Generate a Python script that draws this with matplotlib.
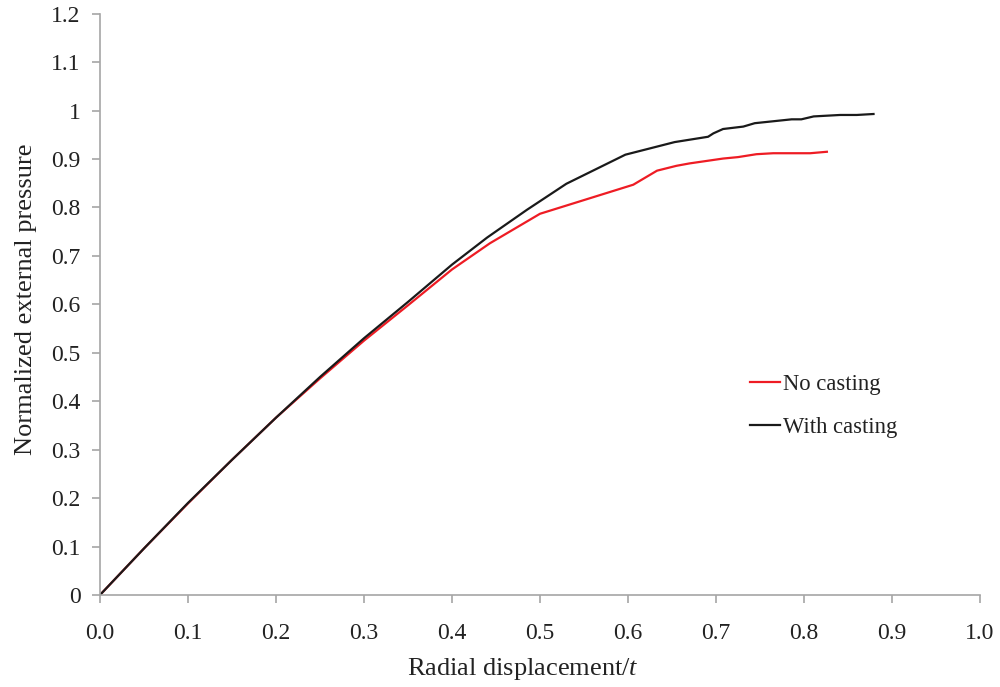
import matplotlib
matplotlib.use("Agg")
import matplotlib.pyplot as plt
from matplotlib.ticker import FuncFormatter

plt.rcParams['font.family'] = ['Liberation Serif', 'DejaVu Serif']
plt.rcParams['mathtext.fontset'] = 'custom'
plt.rcParams['mathtext.rm'] = 'Liberation Serif'
plt.rcParams['mathtext.it'] = 'Liberation Serif:italic'

# no casting
nocast_x = [0, 0.05, 0.1, 0.15, 0.2, 0.25, 0.3, 0.35, 0.4, 0.443, 0.5, 0.606,
            0.633, 0.655, 0.67, 0.708, 0.725, 0.746, 0.765, 0.807, 0.826]
nocast_y = [0, 0.096, 0.189, 0.279, 0.366, 0.447, 0.525, 0.598, 0.672, 0.726, 0.787, 0.847,
            0.876, 0.886, 0.891, 0.901, 0.904, 0.910, 0.912, 0.912, 0.915]

# with casting
withcast_x = [0, 0.05, 0.1, 0.15, 0.2, 0.25, 0.3, 0.35, 0.4, 0.44, 0.485, 0.53, 0.597,
              0.653, 0.691, 0.697, 0.708, 0.731, 0.744, 0.786, 0.797, 0.811, 0.841, 0.860, 0.879]
withcast_y = [0, 0.096, 0.19, 0.279, 0.366, 0.45, 0.53, 0.605, 0.682, 0.738, 0.795, 0.849, 0.909,
              0.935, 0.946, 0.953, 0.962, 0.967, 0.974, 0.982, 0.982, 0.988, 0.991, 0.991, 0.993]

xticks = [0.0, 0.1, 0.2, 0.3, 0.4, 0.5, 0.6, 0.7, 0.8, 0.9, 1.0]
yticks = [0, 0.1, 0.2, 0.3, 0.4, 0.5, 0.6, 0.7, 0.8, 0.9, 1.0, 1.1, 1.2]

fig = plt.figure(figsize=(10, 6.87), dpi=100)
ax = fig.add_axes([0.1, 0.134, 0.88, 0.846])

ax.plot(nocast_x, nocast_y, color="#ee1c24", lw=1.6, label="No casting")
ax.plot(withcast_x, withcast_y, color="#1a1a1a", lw=1.6, label="With casting")

ax.set_xlim(0, 1.0)
ax.set_ylim(0, 1.2)
ax.set_xticks(xticks)
ax.set_yticks(yticks)
ax.xaxis.set_major_formatter(FuncFormatter(lambda v, p: "%.1f" % v))
ax.yaxis.set_major_formatter(FuncFormatter(lambda v, p: "%g" % round(v, 1)))

for side in ["top", "right"]:
    ax.spines[side].set_visible(False)
for side in ["left", "bottom"]:
    ax.spines[side].set_color("#a6a6a6")
    ax.spines[side].set_linewidth(1.2)
ax.tick_params(direction="out", length=6, width=1.2, color="#a6a6a6",
               labelsize=17, labelcolor="#222222")
ax.tick_params(axis="x", pad=14)
ax.tick_params(axis="y", pad=8)

ax.set_xlabel(r"Radial displacement/$t$", fontsize=19, color="#222222")
ax.set_ylabel("Normalized external pressure", fontsize=19, color="#222222")
# labels sit a little off-centre
ax.xaxis.set_label_coords(0.481, -0.105)
ax.yaxis.set_label_coords(-0.072, 0.508)

ax.legend(loc="center left", bbox_to_anchor=(0.7386, 0.325), frameon=False, fontsize=16.3,
          borderpad=0, borderaxespad=0,
          handlelength=1.33, handletextpad=0.13, labelspacing=0.98, labelcolor="#222222")

fig.savefig("out.png")
